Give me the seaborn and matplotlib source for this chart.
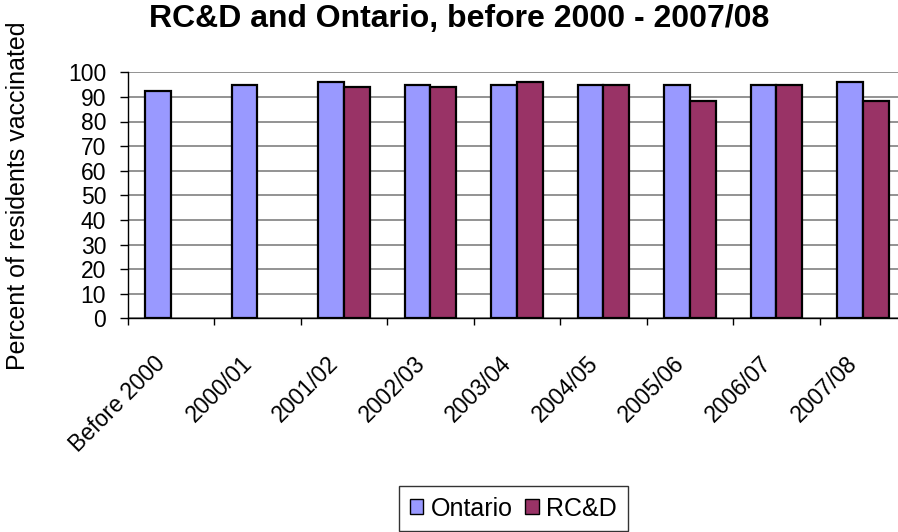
import matplotlib
matplotlib.use("Agg")
import matplotlib.pyplot as plt
from matplotlib.transforms import ScaledTranslation
import seaborn as sns
import pandas as pd
import numpy as np
from matplotlib.patches import Patch

categories = ["Before 2000", "2000/01", "2001/02", "2002/03", "2003/04",
              "2004/05", "2005/06", "2006/07", "2007/08"]
ontario = [92.5, 95, 96, 95, 95, 95, 95, 95, 96]
rcd = [np.nan, np.nan, 94, 94, 96, 95, 88.5, 95, 88.5]
series_names = ["Ontario", "RC&D"]
colors = ["#9999FF", "#993366"]

rows = []
for c, o, r in zip(categories, ontario, rcd):
    rows.append({"Period": c, "Series": series_names[0], "Value": o})
    rows.append({"Period": c, "Series": series_names[1], "Value": r})
df = pd.DataFrame(rows).dropna()

sns.set_theme(style="white")
plt.rcParams["font.family"] = ["Liberation Sans", "DejaVu Sans"]
plt.rcParams["text.color"] = "black"
plt.rcParams["axes.labelcolor"] = "black"
plt.rcParams["xtick.color"] = "black"
plt.rcParams["ytick.color"] = "black"

W, H = 898, 532
fig = plt.figure(figsize=(W / 100, H / 100), dpi=100)
left, right, top, bottom = 127.7, 906.2, 72.3, 318.3
ax = fig.add_axes([left / W, 1 - bottom / H, (right - left) / W, (bottom - top) / H])

sns.barplot(data=df, x="Period", y="Value", hue="Series",
            order=categories, hue_order=series_names,
            palette=colors, width=0.595, dodge=True,
            edgecolor="black", linewidth=1.6, saturation=1,
            errorbar=None, legend=False, ax=ax, zorder=3)

ax.set_xlim(-0.5, len(categories) - 0.5)
ax.set_ylim(0, 100)
ax.set_yticks(np.arange(0, 101, 10))
ax.yaxis.grid(True, color="#808080", linewidth=1.2, zorder=0)
ax.xaxis.grid(False)
ax.tick_params(axis="y", labelsize=16.5, length=6, width=1, color="black",
               direction="out", left=True, pad=9.5)

ax.set_xticks(range(len(categories)))
ax.set_xticklabels(categories, rotation=45, ha="right", va="top",
                   rotation_mode="anchor", fontsize=16.5)
ax.tick_params(axis="x", which="major", length=0, pad=24)
shift = ScaledTranslation(-0.17, 0, fig.dpi_scale_trans)
for lbl in ax.get_xticklabels():
    lbl.set_transform(lbl.get_transform() + shift)
ax.set_xticks(np.arange(-0.5, len(categories), 1), minor=True)
ax.tick_params(axis="x", which="minor", length=5, width=1, color="black",
               direction="out", bottom=True)

for side in ["top", "right"]:
    ax.spines[side].set_visible(False)
for side in ["left", "bottom"]:
    ax.spines[side].set_color("black")
    ax.spines[side].set_linewidth(1)

ax.set_xlabel("")
ax.set_ylabel("Percent of residents vaccinated", fontsize=18)
ax.yaxis.set_label_coords((18 - left) / (right - left), 0.5)
ax.yaxis.label.set_va("center")

fig.text(459 / W, 1 - 19 / H, "RC&D and Ontario, before 2000 - 2007/08",
         ha="center", va="center", fontsize=23, fontweight="bold")

handles = [Patch(facecolor=colors[i], edgecolor="black", label=series_names[i])
           for i in range(2)]
leg = fig.legend(handles=handles, loc="upper left",
                 bbox_to_anchor=(399 / W, 1 - 486 / H),
                 ncol=2, fontsize=18, frameon=True, fancybox=False,
                 handlelength=0.55, handleheight=0.55, handletextpad=0.3,
                 columnspacing=0.5, borderpad=0.42, borderaxespad=0)
leg.get_frame().set_edgecolor("black")
leg.get_frame().set_linewidth(1)

fig.savefig("out.png", dpi=100)
